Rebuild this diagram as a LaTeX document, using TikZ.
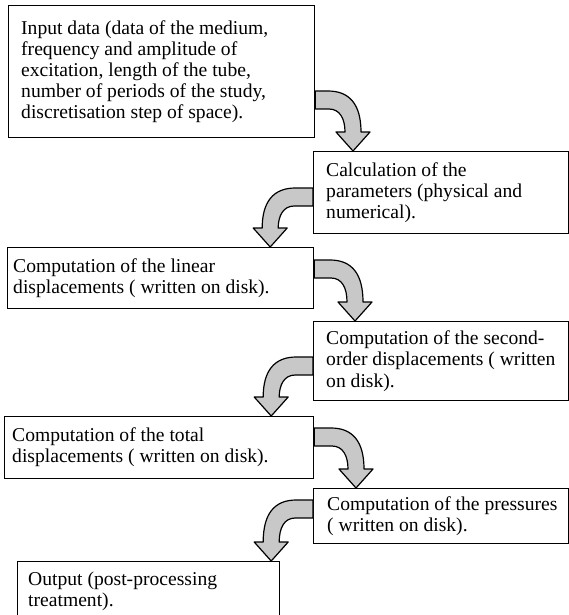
\documentclass[tikz,border=0pt]{standalone}
\usepackage{fontspec}
\setmainfont{Liberation Serif}
\usetikzlibrary{calc}
\definecolor{arrowgray}{RGB}{200,200,200}
\tikzset{
  boxst/.style={draw, line width=1.2pt, rectangle, inner sep=0pt, anchor=north west},
  txt/.style={anchor=west, align=left, inner sep=0pt, font=\fontsize{19.6}{21.1}\selectfont},
  blockarrow/.style={draw, fill=arrowgray, line width=1.2pt, line join=round},
}
\newcommand\curvR[2]{\path[blockarrow] let \p1=(#1), \p2=(#2) in
  (\x1,\y1) -- (\x2-25pt,\y1) .. controls (\x2-3pt,\y1) and (\x2+8pt,\y1-14pt) .. (\x2+8pt,\y2+19pt)
  -- (\x2+17pt,\y2+19pt) -- (\x2,\y2) -- (\x2-17pt,\y2+19pt) -- (\x2-8pt,\y2+19pt)
  .. controls (\x2-8pt,\y1-28pt) and (\x2-13pt,\y1-18pt) .. (\x2-24pt,\y1-18pt) -- (\x1,\y1-18pt) -- cycle;}
\newcommand\curvL[2]{\path[blockarrow] let \p1=(#1), \p2=(#2) in
  (\x1,\y1) -- (\x2+25pt,\y1) .. controls (\x2+3pt,\y1) and (\x2-8pt,\y1-14pt) .. (\x2-8pt,\y2+19pt)
  -- (\x2-17pt,\y2+19pt) -- (\x2,\y2) -- (\x2+17pt,\y2+19pt) -- (\x2+8pt,\y2+19pt)
  .. controls (\x2+8pt,\y1-28pt) and (\x2+13pt,\y1-18pt) .. (\x2+24pt,\y1-18pt) -- (\x1,\y1-18pt) -- cycle;}
\begin{document}
\begin{tikzpicture}[x=1pt,y=1pt]
\path[use as bounding box, clip] (0,0) rectangle (569,-615);
\fill[white] (0,0) rectangle (569,-615);
% boxes
\node[boxst, minimum width=306pt, minimum height=132pt] (b1) at (8,-5) {};
\node[boxst, minimum width=255pt, minimum height=82pt] (b2) at (313,-151) {};
\node[boxst, minimum width=306pt, minimum height=61pt] (b3) at (7,-247) {};
\node[boxst, minimum width=255pt, minimum height=79pt] (b4) at (313,-321) {};
\node[boxst, minimum width=309pt, minimum height=62pt] (b5) at (4,-416) {};
\node[boxst, minimum width=255pt, minimum height=55pt] (b6) at (313,-488) {};
\node[boxst, minimum width=262pt, minimum height=60pt] (b7) at (17,-561) {};
% texts
\node[txt] (t1) at ($(b1.west)+(13,0)$) {Input data (data of the medium,\\frequency and amplitude of\\excitation, length of the tube,\\number of periods of the study,\\discretisation step of space).};
\node[txt] (t2) at ($(b2.west)+(13,0)$) {Calculation of the\\parameters (physical and\\numerical).};
\node[txt] (t3) at ($(b3.west)+(6,0)$) {Computation of the linear\\displacements ( written on disk).};
\node[txt] (t4) at ($(b4.west)+(13,0)$) {Computation of the second-\\order displacements ( written\\on disk).};
\node[txt] (t5) at ($(b5.west)+(8,0)$) {Computation of the total\\displacements ( written on disk).};
\node[txt] (t6) at ($(b6.west)+(14,0)$) {Computation of the pressures\\( written on disk).};
\node[txt] (t7) at ($(b7.west)+(11,0)$) {Output (post-processing\\treatment).};
% connector coordinates
\coordinate (s1) at ($(b1.north east)+(0,-86)$);
\coordinate (e1) at ($(b2.north west)+(40,0)$);
\coordinate (s2) at ($(b2.north west)+(0,-37)$);
\coordinate (e2) at ($(b3.north east)+(-44,0)$);
\coordinate (s3) at ($(b3.north east)+(0,-13)$);
\coordinate (e3) at ($(b4.north west)+(42,0)$);
\coordinate (s4) at ($(b4.north west)+(0,-36)$);
\coordinate (e4) at ($(b5.north east)+(-43,0)$);
\coordinate (s5) at ($(b5.north east)+(0,-12)$);
\coordinate (e5) at ($(b6.north west)+(43,0)$);
\coordinate (s6) at ($(b6.north west)+(0,-12)$);
\coordinate (e6) at ($(b7.north east)+(-9,0)$);
\curvR{s1}{e1}
\curvL{s2}{e2}
\curvR{s3}{e3}
\curvL{s4}{e4}
\curvR{s5}{e5}
\curvL{s6}{e6}
\end{tikzpicture}
\end{document}
